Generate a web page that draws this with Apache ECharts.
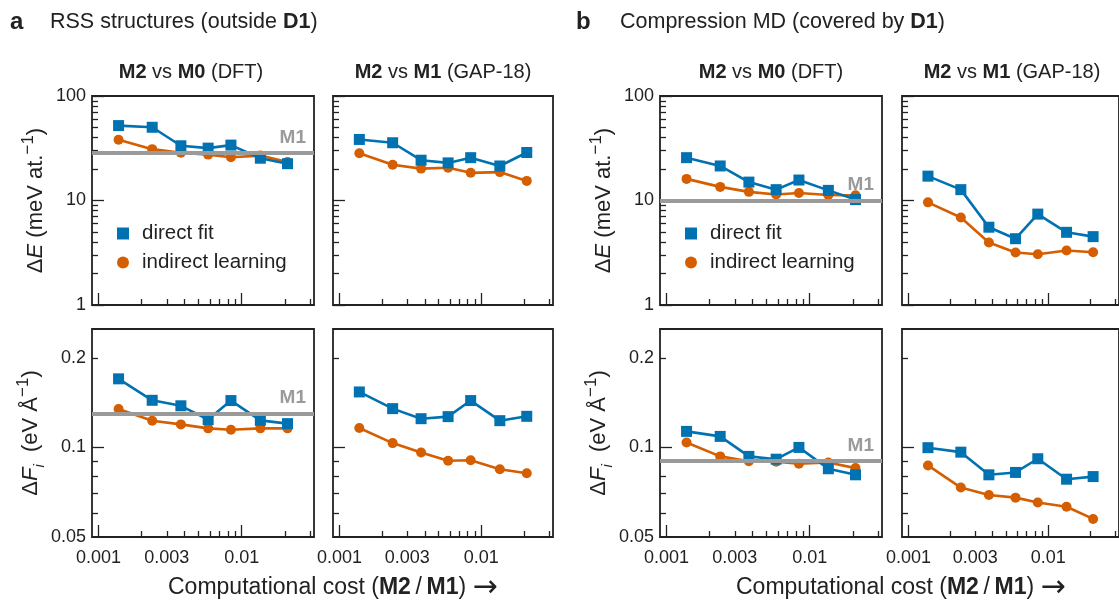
<!DOCTYPE html>
<html>
<head>
    <meta charset="UTF-8">
    <title>M2 vs M0 / M1</title>
    <script src="https://cdn.jsdelivr.net/npm/echarts@6/dist/echarts.min.js"></script>
    <style>
        body { margin: 0; background: #fff; }
        #main { width: 1119px; height: 600px; }
    </style>
</head>
<body>
    <div id="main"></div>

    <script>
        // computational cost (M2 / M1), same points in every panel
        var cost = [0.00138, 0.00237, 0.00376, 0.00583, 0.00841, 0.0135, 0.0209];

        // a: RSS structures (outside D1)
        var rssE_dft_direct   = [52.1, 50.2, 33.4, 31.7, 33.9, 25.4, 22.5];
        var rssE_dft_indirect = [38.1, 31.0, 28.6, 27.5, 25.9, 26.9, 23.4];
        var rssE_gap_direct   = [38.4, 35.7, 24.3, 22.9, 25.7, 21.4, 28.8];
        var rssE_gap_indirect = [28.3, 22.0, 20.2, 20.6, 18.4, 18.7, 15.4];
        var rssF_dft_direct   = [0.170, 0.144, 0.138, 0.124, 0.1437, 0.1233, 0.1202];
        var rssF_dft_indirect = [0.1346, 0.123, 0.1195, 0.1159, 0.1147, 0.1159, 0.1159];
        var rssF_gap_direct   = [0.1536, 0.135, 0.1249, 0.1269, 0.1437, 0.123, 0.1272];
        var rssF_gap_indirect = [0.1162, 0.1034, 0.0962, 0.0902, 0.0906, 0.0845, 0.0819];

        // b: compression MD (covered by D1)
        var mdE_dft_direct   = [25.7, 21.4, 15.0, 12.7, 15.7, 12.5, 10.2];
        var mdE_dft_indirect = [16.1, 13.5, 12.1, 11.4, 11.8, 11.3, 11.2];
        var mdE_gap_direct   = [17.1, 12.7, 5.55, 4.31, 7.41, 4.96, 4.51];
        var mdE_gap_indirect = [9.6, 6.87, 3.97, 3.18, 3.06, 3.32, 3.2];
        var mdF_dft_direct   = [0.1132, 0.1089, 0.0933, 0.0913, 0.1, 0.0848, 0.0809];
        var mdF_dft_indirect = [0.1039, 0.0933, 0.0899, 0.0895, 0.0881, 0.089, 0.0852];
        var mdF_gap_direct   = [0.0998, 0.0964, 0.0809, 0.0824, 0.0916, 0.0782, 0.0798];
        var mdF_gap_indirect = [0.087, 0.0733, 0.0692, 0.0678, 0.0653, 0.0632, 0.0575];

        // M1 (GAP-18) reference level
        var m1_rssE = 28.6, m1_rssF = 0.13, m1_mdE = 10, m1_mdF = 0.0874;

        // ticks and tick labels
        var xMajor = [0.001, 0.01];
        var xMinor = [0.002, 0.003, 0.004, 0.005, 0.006, 0.007, 0.008, 0.009, 0.02, 0.03];
        var xLabels = [0.001, 0.003, 0.01];
        var eMajor = [1, 10, 100];
        var eMinor = [2, 3, 4, 5, 6, 7, 8, 9, 20, 30, 40, 50, 60, 70, 80, 90];
        var eLabels = [1, 10, 100];
        var fMajor = [0.1];
        var fMinor = [0.06, 0.07, 0.08, 0.09, 0.2];
        var fLabels = [0.05, 0.1, 0.2];

        var FONT = 'Liberation Sans, Arial, sans-serif';
        var INK = '#222';
        var BLUE = '#0072B2';
        var ORANGE = '#D55E00';

        var E_NAME = '{a|Δ}{i|E}{a| (meV at.}{s|−1}{a|)}';
        var F_NAME = '{a|Δ}{i|F}{sub|i}{a|  (eV Å}{s|−1}{a|)}';

        var panels = [
            {left: 92,  top: 96,  w: 222, h: 209, row: 'E', direct: rssE_dft_direct, indirect: rssE_dft_indirect, m1: m1_rssE, yLab: true},
            {left: 333, top: 96,  w: 220, h: 209, row: 'E', direct: rssE_gap_direct, indirect: rssE_gap_indirect, m1: null, yLab: false},
            {left: 660, top: 96,  w: 222, h: 209, row: 'E', direct: mdE_dft_direct, indirect: mdE_dft_indirect, m1: m1_mdE, yLab: true},
            {left: 902, top: 96,  w: 220, h: 209, row: 'E', direct: mdE_gap_direct, indirect: mdE_gap_indirect, m1: null, yLab: false},
            {left: 92,  top: 329, w: 222, h: 208, row: 'F', direct: rssF_dft_direct, indirect: rssF_dft_indirect, m1: m1_rssF, yLab: true},
            {left: 333, top: 329, w: 220, h: 208, row: 'F', direct: rssF_gap_direct, indirect: rssF_gap_indirect, m1: null, yLab: false},
            {left: 660, top: 329, w: 222, h: 208, row: 'F', direct: mdF_dft_direct, indirect: mdF_dft_indirect, m1: m1_mdF, yLab: true},
            {left: 902, top: 329, w: 220, h: 208, row: 'F', direct: mdF_gap_direct, indirect: mdF_gap_indirect, m1: null, yLab: false}
        ];

        function fmt(v) {
            return String(+Number(v).toPrecision(3));
        }

        function logAxis(grid, min, max, pos, ticks, len, labels) {
            return {
                type: 'log', logBase: 10, gridIndex: grid, min: min, max: max, position: pos,
                axisLine: {show: false},
                splitLine: {show: false},
                minorTick: {show: false},
                axisTick: {show: true, inside: true, length: len, customValues: ticks,
                           lineStyle: {color: INK, width: 1.3}},
                axisLabel: labels ? {show: true, customValues: labels, formatter: fmt,
                                     fontSize: 18, color: INK, fontFamily: FONT, margin: 12}
                                  : {show: false}
            };
        }

        function pairs(ys) {
            return cost.map(function (c, k) { return [c, ys[k]]; });
        }

        var grids = [], xAxes = [], yAxes = [], series = [];

        panels.forEach(function (p, i) {
            grids.push({left: p.left, top: p.top, width: p.w, height: p.h, show: true,
                        borderColor: INK, borderWidth: 1.8, backgroundColor: 'transparent'});
            var bottomRow = p.row === 'F';
            xAxes.push(logAxis(i, 0.0009, 0.032, 'bottom', xMajor, 12, bottomRow ? xLabels : null));
            xAxes.push(logAxis(i, 0.0009, 0.032, 'bottom', xMinor, 6, null));
            var yMin = bottomRow ? 0.05 : 1, yMax = bottomRow ? 0.25 : 100;
            var yMaj = logAxis(i, yMin, yMax, 'left', bottomRow ? fMajor : eMajor, 12,
                               p.yLab ? (bottomRow ? fLabels : eLabels) : null);
            if (p.yLab) {
                yMaj.axisLabel.margin = 6;
                yMaj.name = bottomRow ? F_NAME : E_NAME;
                yMaj.nameLocation = 'middle';
                yMaj.nameRotate = 90;
                yMaj.nameGap = 40;
                yMaj.nameTextStyle = {
                    fontFamily: FONT, color: INK,
                    rich: {
                        a: {fontSize: 22, fontFamily: FONT, color: INK, lineHeight: 32},
                        i: {fontSize: 22, fontFamily: FONT, color: INK, fontStyle: 'italic', lineHeight: 32},
                        sub: {fontSize: 15, fontFamily: FONT, color: INK, fontStyle: 'italic', verticalAlign: 'bottom', lineHeight: 18},
                        s: {fontSize: 17, fontFamily: FONT, color: INK, verticalAlign: 'top', lineHeight: 16}
                    }
                };
            }
            yAxes.push(yMaj);
            yAxes.push(logAxis(i, yMin, yMax, 'left', bottomRow ? fMinor : eMinor, 6, null));

            if (p.m1 !== null) {
                series.push({
                    name: 'M1', type: 'line', xAxisIndex: 2 * i, yAxisIndex: 2 * i, data: [], z: 1,
                    silent: true,
                    markLine: {
                        silent: true, symbol: 'none', animation: false,
                        lineStyle: {color: '#9a9a9a', width: 4, type: 'solid'},
                        label: {show: true, formatter: 'M1', position: 'insideEndTop', distance: [8, 6],
                                color: '#9a9a9a', fontWeight: 'bold', fontSize: 19, fontFamily: FONT},
                        data: [{yAxis: p.m1}]
                    }
                });
            }
            series.push({
                name: 'direct fit', type: 'line', xAxisIndex: 2 * i, yAxisIndex: 2 * i, z: 3,
                data: pairs(p.direct), symbol: 'rect', symbolSize: 11,
                itemStyle: {color: BLUE}, lineStyle: {color: BLUE, width: 2.6}, animation: false
            });
            series.push({
                name: 'indirect learning', type: 'line', xAxisIndex: 2 * i, yAxisIndex: 2 * i, z: 2,
                data: pairs(p.indirect), symbol: 'circle', symbolSize: 10,
                itemStyle: {color: ORANGE}, lineStyle: {color: ORANGE, width: 2.6}, animation: false
            });
        });

        function legendAt(left) {
            return {
                left: left, top: 223, orient: 'vertical', padding: 0, itemGap: 8,
                itemWidth: 12, itemHeight: 12, selectedMode: false,
                data: [{name: 'direct fit', icon: 'rect'}, {name: 'indirect learning', icon: 'circle'}],
                textStyle: {fontSize: 20.5, color: INK, fontFamily: FONT, padding: [0, 0, 0, 8]}
            };
        }

        function label(x, y, text, size, align, rich) {
            return {
                type: 'text', x: x, y: y, silent: true,
                style: {text: text, fill: INK, font: size + 'px ' + FONT, align: align,
                        verticalAlign: 'middle', rich: rich || {}}
            };
        }

        var boldRich = function (size) {
            return {
                b: {fontWeight: 'bold', fontSize: size, fontFamily: FONT, color: INK},
                n: {fontSize: size, fontFamily: FONT, color: INK},
                ar: {fontSize: 30, fontFamily: 'DejaVu Sans', color: INK}
            };
        };

        var costName = '{n|Computational cost (}{b|M2}{n|\u2009/\u2009}{b|M1}{n|) }{ar|\u2192}';

        var texts = [
            label(10, 22, '{b|a}', 24, 'left', boldRich(24)),
            label(50, 22, '{n|RSS structures (outside }{b|D1}{n|)}', 21.5, 'left', boldRich(21.5)),
            label(576, 22, '{b|b}', 24, 'left', boldRich(24)),
            label(620, 22, '{n|Compression MD (covered by }{b|D1}{n|)}', 21.5, 'left', boldRich(21.5)),
            label(191, 72, '{b|M2}{n| vs }{b|M0}{n| (DFT)}', 20, 'center', boldRich(20)),
            label(443, 72, '{b|M2}{n| vs }{b|M1}{n| (GAP-18)}', 20, 'center', boldRich(20)),
            label(771, 72, '{b|M2}{n| vs }{b|M0}{n| (DFT)}', 20, 'center', boldRich(20)),
            label(1012, 72, '{b|M2}{n| vs }{b|M1}{n| (GAP-18)}', 20, 'center', boldRich(20)),
            label(168, 588, costName, 23, 'left', boldRich(23)),
            label(736, 588, costName, 23, 'left', boldRich(23))
        ];

        var chart = echarts.init(document.getElementById('main'), null, {renderer: 'canvas'});
        chart.setOption({
            backgroundColor: '#fff',
            animation: false,
            textStyle: {fontFamily: FONT},
            grid: grids,
            xAxis: xAxes,
            yAxis: yAxes,
            legend: [legendAt(117), legendAt(685)],
            graphic: texts,
            series: series
        });
    </script>
</body>
</html>
